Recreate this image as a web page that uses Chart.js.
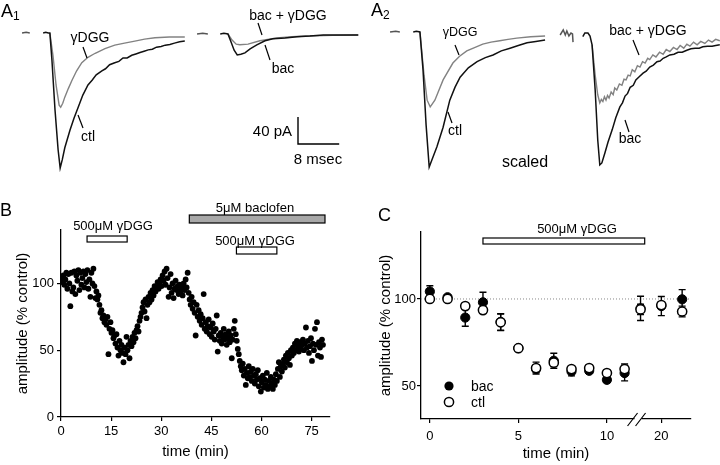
<!DOCTYPE html>
<html>
<head>
<meta charset="utf-8">
<script src="https://cdn.jsdelivr.net/npm/chart.js@4.4.1/dist/chart.umd.min.js"></script>
<style>
  body { margin: 0; background: #fff; }
  #fig { position: relative; width: 720px; height: 465px; overflow: hidden;
         font-family: "Liberation Sans", Arial, sans-serif; color: #000; background: #fff; }
  #fig canvas { position: absolute; }
  .t { position: absolute; white-space: nowrap; line-height: 1; transform: translate(-50%, -50%); }
  .l { transform: translate(0, -50%); }
  .r { transform: translate(-100%, -50%); }
  .pl { position: absolute; font-size: 18px; line-height: 1; }
  .pl sub { font-size: 12px; vertical-align: -3px; }
  svg { position: absolute; left: 0; top: 0; }
</style>
</head>
<body>
<div id="fig">
  <canvas id="a1l"></canvas>
  <canvas id="a1r"></canvas>
  <canvas id="a2l"></canvas>
  <canvas id="a2r"></canvas>
  <canvas id="panelB"></canvas>
  <canvas id="panelC"></canvas>

  <svg width="720" height="465">
    <g stroke="#000" stroke-width="1.2">
      <line x1="83" y1="47" x2="87" y2="58"/>
      <line x1="78" y1="115" x2="83" y2="128"/>
      <line x1="258" y1="23" x2="262" y2="35"/>
      <line x1="265" y1="45" x2="270" y2="60"/>
      <line x1="455" y1="45" x2="459" y2="55"/>
      <line x1="448" y1="112" x2="452" y2="123"/>
      <line x1="633" y1="40" x2="639" y2="55"/>
      <line x1="625" y1="120" x2="629" y2="132"/>
    </g>
  </svg>

  <div class="pl" style="left:1px;top:2px">A<sub>1</sub></div>
  <div class="pl" style="left:371px;top:1px">A<sub>2</sub></div>
  <div class="pl" style="left:0px;top:201px">B</div>
  <div class="pl" style="left:378px;top:206px">C</div>

  <div class="t" style="left:90px;top:37px;font-size:14px">γDGG</div>
  <div class="t" style="left:88px;top:136px;font-size:14px">ctl</div>
  <div class="t" style="left:288px;top:15px;font-size:14px">bac + γDGG</div>
  <div class="t" style="left:283px;top:68px;font-size:14px">bac</div>
  <div class="t r" style="left:292px;top:130px;font-size:15px">40 pA</div>
  <div class="t" style="left:318px;top:158px;font-size:15px">8 msec</div>

  <div class="t" style="left:460px;top:32px;font-size:12.5px">γDGG</div>
  <div class="t" style="left:455px;top:130px;font-size:14px">ctl</div>
  <div class="t" style="left:525px;top:162px;font-size:16px">scaled</div>
  <div class="t" style="left:648px;top:30px;font-size:14px">bac + γDGG</div>
  <div class="t" style="left:630px;top:138px;font-size:14px">bac</div>

  <div class="t" style="left:113px;top:225px;font-size:13px">500μM γDGG</div>
  <div class="t" style="left:255px;top:207px;font-size:13px">5μM baclofen</div>
  <div class="t" style="left:255px;top:240px;font-size:13px">500μM γDGG</div>

  <div class="t" style="left:577px;top:228px;font-size:13px">500μM γDGG</div>
  <div class="t l" style="left:471px;top:386px;font-size:14px">bac</div>
  <div class="t l" style="left:471px;top:402px;font-size:14px">ctl</div>
</div>

<script>
/* ---------------------------------------------------
    Data
---------------------------------------------------*/

// A1 traces: time (ms) and current (pA), inward current negative
const a1DashT = [0.4, 1.2, 1.9];
const a1DashI = [0, 1, 0];
const a1CtlT = [4.5, 5.0, 5.5, 5.8, 6.2, 6.8, 7.4, 7.8, 8.2, 8.7, 9.7, 10.5, 11.3, 12.2, 13.2, 14.0, 14.8, 15.9, 16.6, 17.4, 18.4, 19.2, 20.0, 20.8, 21.7, 22.5, 23.3, 24.1, 24.9, 25.7, 26.5, 27.4, 28.2, 29.1, 30.0, 31.0, 32.0];
const a1CtlI = [0, 1, 0, 0, -40, -114, -173, -200, -188, -170, -144, -126, -110, -92, -77, -70, -62, -56, -53, -47, -44, -42, -37, -37, -33, -31, -29, -27, -25, -24, -21, -20, -18, -17, -15, -13, -12];
const a1GdggT = [5.8, 6.4, 7.0, 7.6, 7.9, 8.3, 8.7, 9.4, 10.1, 11.0, 12.0, 13.2, 14.6, 16.5, 18.4, 20.3, 22.3, 24.2, 26.2, 29.0, 32.0];
const a1GdggI = [0, -33, -77, -107, -110, -104, -95, -82, -70, -56, -44, -36, -30, -23, -18, -15, -12, -9, -7, -6, -6];

const a1bDashT = [0.4, 1.5, 2.5];
const a1bDashI = [0, 1, 0];
const a1BacT = [4.9, 5.6, 6.4, 7.0, 7.6, 8.2, 8.9, 9.7, 10.7, 12.0, 13.6, 15.1, 17.5, 19.8, 22.3, 24.9, 28.3, 31.7];
const a1BacI = [0, 1, 0, -12, -24, -31, -30, -28, -22, -16, -10, -7, -6, -4, -3, -1.5, -1.5, -1.5];
const a1BacGdggT = [6.4, 7.2, 8.0, 8.7, 10.3, 12.6, 15.9, 18.8, 21.7, 26.7, 31.7];
const a1BacGdggI = [0, -9, -15, -16, -15, -10, -6, -4, -3, -2, -1.5];

// A2 traces (scaled)
const a2DashT = [0.4, 1.5, 2.3];
const a2DashI = [0, 1, 0];
const a2CtlT = [4.9, 5.5, 6.2, 6.8, 7.4, 8.0, 8.5, 9.5, 10.7, 12.0, 13.0, 14.0, 15.6, 17.3, 18.9, 20.4, 22.0, 23.7, 25.3, 27.0, 28.7, 30.5];
const a2CtlI = [0, 1, 0, -56, -138, -200, -190, -170, -141, -101, -82, -67, -53, -44, -38, -34, -28, -24, -20, -16, -14, -12];
const a2GdggT = [6.2, 7.0, 7.6, 8.2, 9.1, 10.7, 12.6, 13.9, 15.3, 16.8, 18.4, 20.0, 21.7, 23.3, 25.0, 27.7, 30.5];
const a2GdggI = [0, -64, -101, -111, -101, -71, -46, -36, -28, -23, -18, -15, -13, -11, -9, -7, -6];

const a2bDashT = [1.0, 1.6, 2.0, 2.3, 2.7, 3.1, 3.4, 3.5];
const a2bDashI = [-1.5, 6, -1.5, 4.5, -3, 1.5, 0, -12];
const a2BacT = [5.4, 5.8, 6.4, 6.8, 7.2, 7.8, 8.3, 8.7, 9.1, 9.7, 10.3, 11.1, 11.8, 12.6, 13.1, 13.6, 14.1, 14.6, 15.2, 15.7, 16.4, 17.1, 17.7, 18.4, 19.1, 19.8, 20.4, 21.0, 21.6, 22.3, 23.1, 23.9, 24.7, 25.6, 26.4, 27.2, 28.0, 28.7, 29.6, 30.5, 31.2, 32.0];
const a2BacI = [-4, 1.5, 1.5, -3, -16, -83, -157, -194, -191, -176, -160, -142, -124, -108, -102, -92, -88, -79, -76, -68, -63, -58, -55, -49, -46, -41, -40, -36, -34, -31, -30, -27, -27, -24, -22, -21, -21, -19, -18, -18, -17, -16];
const a2BacGdggT = [7.2, 7.8, 8.3, 8.7, 9.0, 9.3, 9.6, 9.9, 10.2, 10.5, 10.9, 11.3, 11.6, 12.0, 12.5, 13.0, 13.4, 13.8, 14.2, 14.6, 15.0, 15.5, 16.0, 16.5, 17.0, 17.5, 18.0, 18.4, 19.0, 19.6, 20.3, 21.0, 21.6, 22.3, 23.0, 23.7, 24.3, 25.0, 25.6, 26.2, 26.9, 27.6, 28.3, 29.1, 29.8, 30.5, 31.2, 32.0];
const a2BacGdggI = [-16, -61, -90, -102, -97, -100, -93, -98, -91, -95, -86, -90, -80, -83, -74, -76, -67, -68, -61, -62, -53, -56, -47, -49, -41, -43, -36, -38, -31, -34, -27, -30, -23, -26, -20, -23, -17, -21, -15, -18, -12, -16, -11, -14, -9, -12, -8, -10];

const scaleBarMs = 8;
const scaleBarPa = 40;

// B: [time (min), amplitude (% control)]
const bPoints = [
  [0.1,104],[0.4,101],[0.7,106],[1.0,99],[1.3,103],[1.6,108],[1.9,96],[2.2,107],[2.5,100],[2.8,83],[3.1,108],[3.4,94],
  [3.7,97],[4.0,109],[4.3,92],[4.6,106],[4.9,102],[5.2,110],[5.5,95],[5.8,108],[6.1,99],[6.4,104],[6.7,109],[7.0,97],
  [7.3,107],[7.6,101],[7.9,110],[8.2,96],[8.5,103],[8.8,90],[9.1,108],[9.4,100],[9.7,111],[10.0,98],[10.3,89],[10.6,94],[10.9,88],
  [11.2,91],[11.5,84],[11.8,78],[12.1,80],[12.4,74],[12.7,76],[13.0,71],[13.3,73],[13.6,69],[13.9,75],[14.2,47],[14.5,66],[14.8,71],
  [15.1,63],[15.4,65],[15.7,59],[16.0,61],[16.3,55],[16.6,62],[16.9,52],[17.2,46],[17.5,57],[17.8,50],[18.1,54],[18.4,48],[18.7,41],[19.0,52],[19.3,47],[19.6,60],[19.9,50],
  [20.2,54],[20.5,44],[20.8,57],[21.1,53],[21.4,60],[21.7,56],[22.0,63],[22.3,59],[22.6,65],[22.9,68],[23.2,64],[23.5,72],[23.8,75],[24.1,78],[24.4,82],[24.7,86],[25.0,79],
  [25.3,88],[25.6,74],[25.9,84],[26.2,90],[26.5,86],[26.8,93],[27.1,88],[27.4,95],[27.7,91],[28.0,98],[28.3,94],[28.6,97],[28.9,101],[29.2,96],[29.5,100],[29.8,103],
  [30.1,98],[30.4,106],[30.7,102],[31.0,109],[31.3,99],[31.6,111],[31.9,104],[32.2,90],[32.5,97],[32.8,107],[33.1,93],[33.4,100],[33.7,89],[34.0,96],[34.3,102],[34.6,95],[34.9,98],
  [35.2,92],[35.5,99],[35.8,94],[36.1,97],[36.4,91],[36.7,100],[37.0,95],[37.3,103],[37.6,97],[37.9,108],[38.2,93],[38.5,88],[38.8,84],[39.1,90],[39.4,81],[39.7,86],
  [40.0,78],[40.3,61],[40.6,84],[40.9,75],[41.2,80],[41.5,72],[41.8,77],[42.1,69],[42.4,74],[42.7,92],[43.0,66],[43.3,71],[43.6,64],[43.9,68],[44.2,73],[44.5,62],[44.8,67],
  [45.1,60],[45.4,70],[45.7,64],[46.0,58],[46.3,66],[46.6,76],[46.9,49],[47.2,61],[47.5,57],[47.8,63],[48.1,55],[48.4,60],[48.7,66],[49.0,58],[49.3,62],[49.6,54],[49.9,59],
  [50.2,64],[50.5,56],[50.8,61],[51.1,44],[51.4,58],[51.7,66],[52.0,72],[52.3,62],[52.6,57],[52.9,51],[53.2,47],[53.5,42],[53.8,38],[54.1,35],[54.4,40],[54.7,31],
  [55.0,36],[55.3,24],[55.6,33],[55.9,29],[56.2,38],[56.5,30],[56.8,34],[57.1,27],[57.4,36],[57.7,31],[58.0,25],[58.3,32],[58.6,28],[58.9,35],[59.2,23],[59.5,29],[59.8,19],
  [60.1,26],[60.4,31],[60.7,22],[61.0,28],[61.3,24],[61.6,33],[61.9,21],[62.2,27],[62.5,23],[62.8,30],[63.1,25],[63.4,21],[63.7,28],[64.0,24],[64.3,32],[64.6,27],
  [64.9,36],[65.2,41],[65.5,30],[65.8,38],[66.1,34],[66.4,40],[66.7,43],[67.0,37],[67.3,46],[67.6,41],[67.9,48],[68.2,44],[68.5,39],[68.8,50],[69.1,46],
  [69.4,52],[69.7,48],[70.0,55],[70.3,50],[70.6,57],[70.9,53],[71.2,49],[71.5,56],[71.8,51],[72.1,54],[72.4,58],[72.7,50],[73.0,55],[73.3,67],[73.6,52],[73.9,57],[74.2,48],
  [74.5,53],[74.8,59],[75.1,42],[75.4,55],[75.7,50],[76.0,66],[76.3,54],[76.6,71],[76.9,46],[77.2,56],[77.5,52],[77.8,45],[78.1,58],[78.4,54]
];
const bXTicks = [0, 15, 30, 45, 60, 75];
const bYTicks = [0, 50, 100];
// drug application bars (min)
const bGdgg1 = [7.8, 19.8];
const bBaclofen = [38.4, 79];
const bGdgg2 = [52.5, 64.6];

// C: mean amplitude and SEM
const cTime = [0, 1, 2, 3, 4, 5, 6, 7, 8, 9, 10, 11, 15, 20, 25];
const cBac = [104.3, 101, 89.3, 98.1, 86.8, 71.7, 59.7, 64.5, 58.3, 58.7, 53.5, 57.4, 94.6, 95.9, 99.8];
const cBacErr = [3.3, 1, 5, 5.8, 4.8, 1.5, 2, 4.3, 2.5, 1.5, 1.5, 4.5, 7, 5.5, 5.6];
const cCtl = [100, 100, 95.9, 93.6, 86.6, 71.7, 60.3, 63.4, 59.7, 60.3, 57.4, 59.7, 94, 96.5, 92.8];
const cCtlErr = [1, 1, 1, 1, 4.8, 1.5, 3.4, 2, 1.5, 1.5, 1.5, 3, 3, 2, 3.1];
const cXTicks = [0, 5, 10, 20];
const cYTicks = [50, 100];
const cGdgg = [3, 16];

/* ---------------------------------------------------
    Helpers
---------------------------------------------------*/
const FONT = '"Liberation Sans", Arial, sans-serif';
const PX_PER_MS = 5.15, PX_PER_PA = 0.675;

function place(id, left, top, w, h) {
  const c = document.getElementById(id);
  c.width = w; c.height = h;
  c.style.left = left + 'px'; c.style.top = top + 'px';
  c.style.width = w + 'px'; c.style.height = h + 'px';
  return c;
}

function pts(t, v) { return t.map((x, i) => ({ x: x, y: v[i] })); }

const base = {
  animation: false, responsive: false, events: [],
  plugins: { legend: { display: false }, tooltip: { enabled: false } }
};

// current traces, no axes; pixel geometry -> ms / pA ranges
function traceChart(id, left, top, w, h, baseY, sets, extra) {
  const c = place(id, left, top, w, h);
  return new Chart(c, {
    type: 'line',
    data: { datasets: sets.map(s => ({
      data: s.data, borderColor: s.color, borderWidth: s.width || 1.5,
      pointRadius: 0, tension: 0, fill: false, spanGaps: false
    })) },
    options: Object.assign({}, base, {
      layout: { padding: 0 },
      scales: {
        x: { type: 'linear', display: false, min: 0, max: w / PX_PER_MS },
        y: { type: 'linear', display: false,
             min: -(top + h - baseY) / PX_PER_PA, max: (baseY - top) / PX_PER_PA }
      }
    }),
    plugins: extra ? [extra] : []
  });
}

const BLACK = '#111', GRAY = '#828282', DASH = '#555';

traceChart('a1l', 20, 0, 170, 180, 33, [
  { data: pts(a1DashT, a1DashI), color: DASH },
  { data: pts(a1CtlT, a1CtlI), color: BLACK },
  { data: pts(a1GdggT, a1GdggI), color: GRAY, width: 1.4 }
]);

const scaleBar = {
  id: 'scaleBar',
  afterDraw(chart) {
    const { ctx, scales: { x, y } } = chart;
    const x0 = x.getPixelForValue(20), y0 = y.getPixelForValue(-163);
    ctx.save();
    ctx.strokeStyle = '#000'; ctx.lineWidth = 1.4;
    ctx.beginPath();
    ctx.moveTo(x0, y.getPixelForValue(-163 + scaleBarPa));
    ctx.lineTo(x0, y0);
    ctx.lineTo(x.getPixelForValue(20 + scaleBarMs), y0);
    ctx.stroke();
    ctx.restore();
  }
};

traceChart('a1r', 195, 0, 165, 180, 34, [
  { data: pts(a1bDashT, a1bDashI), color: DASH },
  { data: pts(a1BacT, a1BacI), color: BLACK },
  { data: pts(a1BacGdggT, a1BacGdggI), color: GRAY, width: 1.4 }
], scaleBar);

traceChart('a2l', 388, 0, 165, 180, 32, [
  { data: pts(a2DashT, a2DashI), color: DASH },
  { data: pts(a2CtlT, a2CtlI), color: BLACK },
  { data: pts(a2GdggT, a2GdggI), color: GRAY, width: 1.4 }
]);

traceChart('a2r', 555, 0, 165, 180, 34, [
  { data: pts(a2bDashT, a2bDashI), color: DASH },
  { data: pts(a2BacT, a2BacI), color: BLACK },
  { data: pts(a2BacGdggT, a2BacGdggI), color: GRAY, width: 1.4 }
]);

function axisStyle(ticks, title, fontSize, pad, fitSize, horizontal) {
  return {
    type: 'linear',
    afterBuildTicks: s => { s.ticks = ticks.map(v => ({ value: v })); },
    afterFit: s => { if (horizontal) s.height = fitSize; else s.width = fitSize; },
    grid: { display: true, drawOnChartArea: false, drawTicks: true, tickLength: 4, color: '#000', lineWidth: 1.2 },
    border: { display: true, color: '#000', width: 1.3 },
    ticks: { color: '#000', font: { family: FONT, size: 13 }, padding: pad, maxRotation: 0, autoSkip: false },
    title: { display: true, text: title, color: '#000', font: { family: FONT, size: fontSize }, padding: 0 }
  };
}

/* ---------------------------------------------------
    B: time course, single cell
---------------------------------------------------*/
const bBars = {
  id: 'bBars',
  afterDraw(chart) {
    const { ctx, chartArea, scales: { x } } = chart;
    const top = chartArea.top;
    const bars = [
      { r: bBaclofen, y: top - 15, h: 8, fill: '#a8a8a8' },
      { r: bGdgg1, y: top + 6, h: 6, fill: '#fff' },
      { r: bGdgg2, y: top + 17, h: 7, fill: '#fff' }
    ];
    ctx.save();
    ctx.lineWidth = 1.2; ctx.strokeStyle = '#000';
    bars.forEach(b => {
      const x0 = x.getPixelForValue(b.r[0]), x1 = x.getPixelForValue(b.r[1]);
      ctx.fillStyle = b.fill;
      ctx.fillRect(x0, b.y, x1 - x0, b.h);
      ctx.strokeRect(x0, b.y, x1 - x0, b.h);
    });
    ctx.restore();
  }
};

const cb = place('panelB', 0, 195, 345, 270);
new Chart(cb, {
  type: 'scatter',
  data: { datasets: [{
    data: bPoints.map(p => ({ x: p[0], y: p[1] })),
    backgroundColor: '#000', borderWidth: 0, pointRadius: 2.9
  }] },
  options: Object.assign({}, base, {
    layout: { padding: { left: 14, top: 35, right: 15, bottom: 4 } },
    scales: {
      x: Object.assign(axisStyle(bXTicks, 'time (min)', 15, 3, 44, true), { min: 0, max: 80.5 }),
      y: Object.assign(axisStyle(bYTicks, 'amplitude (% control)', 15, 3, 47, false), { min: 0, max: 140 })
    }
  }),
  plugins: [bBars]
});

/* ---------------------------------------------------
    C: averaged time course with broken time axis
---------------------------------------------------*/
// broken axis: 0-11 min linear, later times compressed
function cPos(t) { return t <= 11 ? t : 11.9 + (t - 15) * 0.235; }

const cExtras = {
  id: 'cExtras',
  beforeDatasetsDraw(chart) {
    const { ctx, chartArea, scales: { x, y } } = chart;
    ctx.save();
    // dotted reference at 100%
    ctx.strokeStyle = '#888'; ctx.lineWidth = 1; ctx.setLineDash([1, 2]);
    ctx.beginPath();
    ctx.moveTo(chartArea.left, y.getPixelForValue(100));
    ctx.lineTo(chartArea.right, y.getPixelForValue(100));
    ctx.stroke();
    ctx.setLineDash([]);
    // error bars
    ctx.strokeStyle = '#000'; ctx.lineWidth = 1.4;
    [[cBac, cBacErr], [cCtl, cCtlErr]].forEach(([m, e]) => {
      cTime.forEach((t, i) => {
        const px = x.getPixelForValue(cPos(t));
        const lo = y.getPixelForValue(m[i] - e[i]), hi = y.getPixelForValue(m[i] + e[i]);
        ctx.beginPath();
        ctx.moveTo(px, lo); ctx.lineTo(px, hi);
        ctx.moveTo(px - 3.5, lo); ctx.lineTo(px + 3.5, lo);
        ctx.moveTo(px - 3.5, hi); ctx.lineTo(px + 3.5, hi);
        ctx.stroke();
      });
    });
    ctx.restore();
  },
  afterDraw(chart) {
    const { ctx, chartArea, scales: { x } } = chart;
    ctx.save();
    // application bar
    const x0 = x.getPixelForValue(cPos(cGdgg[0])), x1 = x.getPixelForValue(cPos(cGdgg[1]));
    ctx.fillStyle = '#fff'; ctx.strokeStyle = '#000'; ctx.lineWidth = 1.2;
    ctx.fillRect(x0, chartArea.top + 6, x1 - x0, 6);
    ctx.strokeRect(x0, chartArea.top + 6, x1 - x0, 6);
    // axis break
    const bx = x.getPixelForValue(11.9) - 1, by = chartArea.bottom;
    ctx.fillStyle = '#fff';
    ctx.fillRect(bx - 5, by - 2, 7, 4);
    ctx.lineWidth = 1.2;
    ctx.beginPath();
    ctx.moveTo(bx - 12, by + 7); ctx.lineTo(bx - 2, by - 6);
    ctx.moveTo(bx - 4, by + 7); ctx.lineTo(bx + 6, by - 6);
    ctx.stroke();
    // legend markers
    ctx.lineWidth = 1.5;
    ctx.fillStyle = '#000';
    ctx.beginPath(); ctx.arc(89, 191, 4.6, 0, Math.PI * 2); ctx.fill();
    ctx.fillStyle = '#fff';
    ctx.beginPath(); ctx.arc(89, 207, 4.6, 0, Math.PI * 2); ctx.fill(); ctx.stroke();
    ctx.restore();
  }
};

const cc = place('panelC', 360, 195, 360, 270);
new Chart(cc, {
  type: 'scatter',
  data: { datasets: [
    { label: 'ctl', data: cTime.map((t, i) => ({ x: cPos(t), y: cCtl[i] })),
      backgroundColor: '#fff', borderColor: '#000', borderWidth: 1.5, pointRadius: 4.6, order: 0 },
    { label: 'bac', data: cTime.map((t, i) => ({ x: cPos(t), y: cBac[i] })),
      backgroundColor: '#000', borderColor: '#000', borderWidth: 1, pointRadius: 4.6, order: 1 }
  ] },
  options: Object.assign({}, base, {
    layout: { padding: { left: 17, top: 37, right: 29, bottom: 2 } },
    scales: {
      x: Object.assign(axisStyle(cXTicks.map(cPos), 'time (min)', 15, 6, 44, true), {
        min: -0.5, max: 14.75,
        ticks: { color: '#000', font: { family: FONT, size: 13 }, padding: 6, maxRotation: 0, autoSkip: false,
                 callback: (v, i) => String(cXTicks[i]) }
      }),
      y: Object.assign(axisStyle(cYTicks, 'amplitude (% control)', 15, 1, 44, false), { min: 31, max: 138.5 })
    }
  }),
  plugins: [cExtras]
});
</script>
</body>
</html>
